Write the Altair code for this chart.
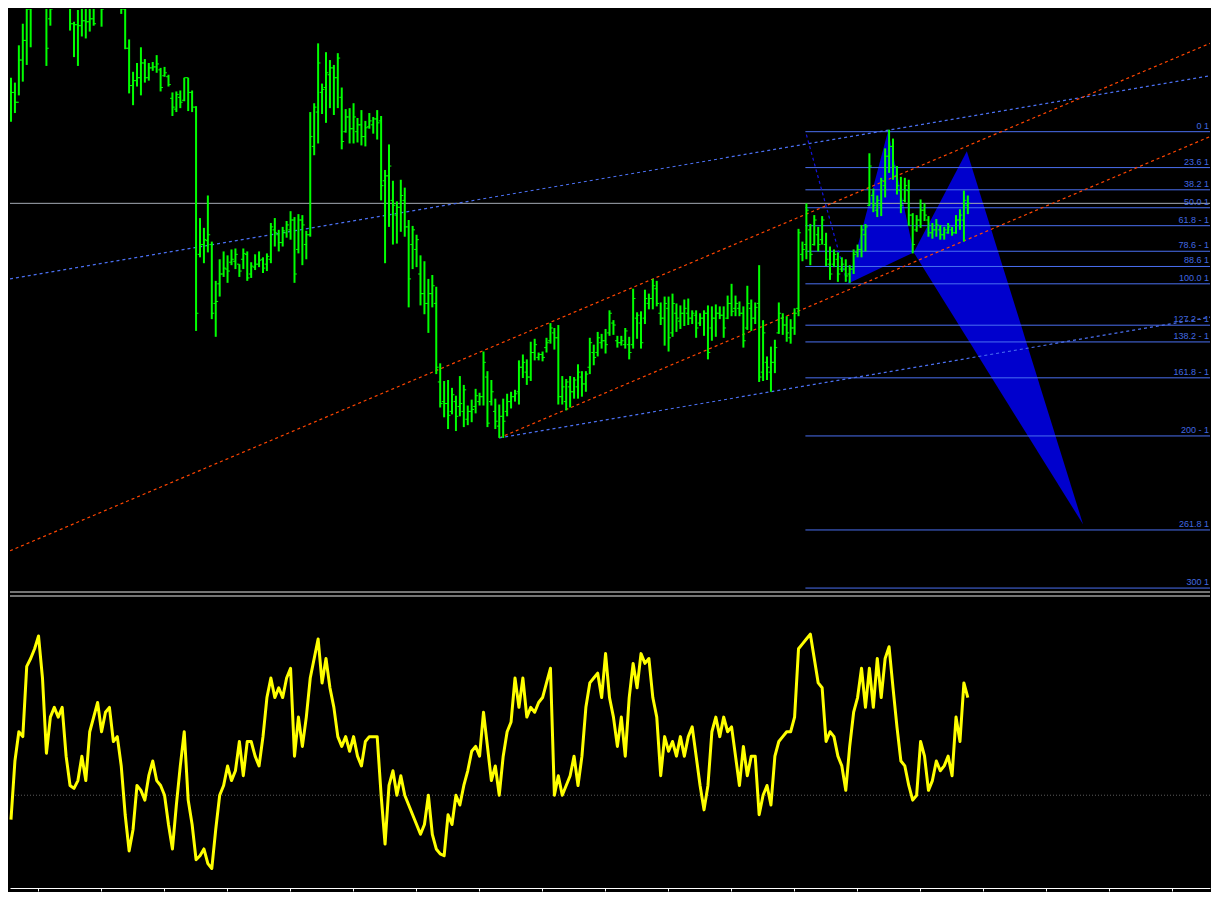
import altair as alt
import pandas as pd

# ---------------- data (price units) ----------------
high = [530,525,563,585,615,625,640,650,645,630,
        625,640,650,645,640,625,587,599,615,620,
        618,620,635,625,640,645,640,630,620,612,
        569,536,545,561,549,545,546,553,540,541,
        533,515,516,517,530,530,517,501,387,377,
        410,363,323,345,353,349,355,356,340,356,
        353,342,350,353,347,351,382,387,375,378,
        384,394,388,391,390,374,495,504,565,524,
        556,548,543,555,520,498,499,504,489,497,
        486,494,490,497,491,436,462,425,404,426,
        418,385,379,370,349,343,325,329,317,239,
        221,222,214,206,226,217,196,202,213,209,
        251,231,222,203,197,203,208,210,212,242,
        248,243,261,264,250,251,265,280,275,278,
        226,223,226,225,238,231,231,265,258,271,
        269,274,293,283,267,267,275,266,315,291,
        292,314,310,325,323,301,307,307,310,300,
        298,304,305,293,293,290,293,298,297,299,
        297,297,308,320,308,302,297,318,304,301,
        339,283,246,256,263,301,290,287,284,295,
        376,363,402,381,390,378,389,372,358,355,
        352,347,345,339,355,360,380,381,453,417,
        410,428,458,477,468,440,429,428,426,392,
        390,406,402,389,382,386,380,378,382,378,
        390,396,415,410]
low = [485,494,512,526,543,561,605,610,605,542,
       583,605,608,606,603,578,551,542,572,570,
       577,583,604,582,605,610,606,603,595,559,
       514,502,521,512,525,527,537,535,516,531,
       521,491,495,499,506,496,495,272,347,341,
       352,284,266,307,327,321,339,335,327,335,
       323,326,334,337,331,333,341,358,353,358,
       367,365,321,351,339,345,368,451,463,493,
       484,499,492,499,457,474,463,463,464,461,
       460,478,473,467,405,341,378,360,361,373,
       368,296,335,337,298,289,270,296,228,194,
       184,172,187,170,185,174,176,179,188,196,
       196,174,196,172,163,163,185,193,200,197,
       224,217,221,242,242,241,250,259,253,197,
       197,191,194,203,203,205,210,228,237,246,
       254,249,267,268,255,257,254,243,254,264,
       254,279,294,294,297,278,257,251,266,271,
       274,277,278,279,265,277,267,243,262,266,
       284,265,284,287,287,287,255,273,272,279,
       220,221,222,210,229,269,268,261,259,268,
       287,343,345,339,359,353,360,338,324,337,
       322,332,322,321,330,347,347,353,399,393,
       388,389,408,433,426,411,392,403,379,351,
       373,377,384,368,366,368,365,365,371,369,
       371,375,363,391]
open_ = [490,515,505,548,568,600,610,630,620,635,
         590,610,625,640,615,620,585,584,583,588,
         587,590,605,625,610,620,630,615,612,600,
         560,522,527,530,545,530,540,541,538,532,
         531,509,498,510,507,530,515,500,350,360,
         364,360,300,320,330,335,342,343,340,345,
         350,330,337,340,345,340,345,375,370,362,
         372,375,385,355,385,360,370,460,495,515,
         520,533,540,530,510,475,490,478,475,482,
         470,480,482,488,486,425,430,405,390,398,
         405,378,360,355,330,310,300,310,300,220,
         200,198,190,200,195,190,182,190,195,200,
         205,225,200,190,175,185,190,200,205,210,
         235,230,225,250,245,248,255,262,270,265,
         205,200,215,210,215,225,218,235,250,250,
         260,262,270,280,262,260,258,258,258,285,
         280,285,300,305,315,290,285,295,270,290,
         282,290,290,285,288,280,285,290,275,285,
         290,288,285,300,295,295,290,275,295,285,
         300,230,240,230,240,270,285,278,265,275,
         295,350,360,375,360,370,365,360,340,340,
         345,335,335,330,335,352,355,370,400,410,
         395,400,420,450,460,430,415,405,415,390,
         375,385,395,385,372,375,375,370,372,375,
         372,385,385,400]
close = [515,505,548,568,600,610,630,620,635,560,
         600,625,640,615,620,585,584,583,588,587,
         590,585,625,600,620,630,615,612,600,560,
         522,527,530,545,530,540,541,544,520,535,
         523,500,513,505,530,515,500,290,360,365,
         370,290,302,330,336,333,345,350,333,351,
         326,338,340,344,336,348,378,372,362,374,
         380,385,330,385,380,370,470,500,545,518,
         535,540,530,550,465,490,478,490,482,470,
         479,486,488,484,420,430,440,400,398,410,
         378,325,375,365,310,300,310,318,235,198,
         198,186,207,185,198,212,190,192,206,205,
         240,178,210,180,185,180,200,205,208,235,
         240,225,250,258,248,245,260,275,265,205,
         215,220,210,222,230,218,228,260,245,265,
         262,258,290,278,260,262,272,250,305,288,
         260,305,305,318,300,285,300,265,300,285,
         290,295,285,290,275,285,290,250,285,290,
         288,275,300,292,300,290,262,300,285,296,
         225,270,235,240,255,290,278,270,275,290,
         372,355,395,350,385,360,385,345,330,350,
         330,340,328,335,350,355,375,378,440,400,
         405,425,450,460,440,420,400,420,390,360,
         385,395,390,372,375,380,370,375,378,372,
         385,390,405,402]
momentum = [75,135,165,160,232,240,250,263,220,143,
            180,190,180,190,140,110,107,115,140,115,
            165,180,195,165,185,190,155,160,130,80,
            43,65,110,105,95,120,135,115,110,100,
            70,45,90,130,165,95,70,34,38,45,
            30,25,65,100,110,130,115,125,155,120,
            155,155,140,130,160,200,220,200,210,200,
            220,230,140,180,150,180,220,240,260,215,
            240,210,190,160,150,160,145,160,140,130,
            155,160,160,160,100,50,110,125,100,120,
            100,90,80,70,60,70,100,60,45,40,
            38,80,70,100,90,110,125,145,150,140,
            185,150,115,130,100,140,165,175,220,190,
            220,180,190,185,195,200,215,230,100,120,
            100,110,120,140,110,140,190,215,220,225,
            200,245,200,180,150,180,140,200,235,210,
            245,235,240,200,180,120,160,145,155,140,
            160,140,160,170,140,110,85,110,165,180,
            160,180,165,170,140,110,150,120,140,140,
            80,100,110,90,140,155,160,165,165,180,
            250,255,260,265,240,215,210,155,165,160,
            140,130,105,150,185,200,230,190,230,190,
            240,200,240,252,210,170,135,130,110,95,
            100,155,140,105,115,135,125,130,140,120,
            180,155,215,200]
momentum_level = 100

fib_pct = [0, 23.6, 38.2, 50.0, 61.8, 78.6, 88.6, 100.0, 127.2, 138.2, 161.8, 200, 261.8, 300]
fib_labels = ["0 1", "23.6 1", "38.2 1", "50.0 1", "61.8 - 1", "78.6 - 1", "88.6 1",
              "100.0 1", "127.2 - 1", "138.2 - 1", "161.8 -  1", "200 - 1", "261.8 1", "300 1"]
fib_high = 475      # price at 0 %
fib_low = 320       # price at 100 %
fib_start = 201.75  # bar index where the fibo object begins
current_price = 402

# XABCD harmonic pattern (bar index, price)
pat_name = ["X", "A", "B", "C", "D"]
pat_i = [212.5, 222.75, 229.25, 242.75, 272.25]
pat_p = [320, 476, 352, 455, 75]

# trend lines: name, start (bar, price), end (bar, price)
tl_name = ["blue_long", "red_long", "red_channel", "blue_channel", "xa"]
tl_i0 = [-0.25, -0.25, 124, 124, 202]
tl_p0 = [325, 48, 163, 163, 472]
tl_i1 = [304.5, 304.5, 304.5, 304.5, 212.25]
tl_p1 = [532, 565, 470, 286, 323]
tl_color = ["#4a6ff0", "#ff4500", "#ff4500", "#4a6ff0", "#1414e0"]

axis_ticks = [6.75, 22.75, 38.75, 54.75, 70.75, 86.75, 102.75, 118.75, 134.75, 150.75,
              166.75, 182.75, 198.75, 214.75, 230.75, 246.75, 262.75, 278.75, 294.75]

# ---------------- layout ----------------
W = 1200
H_TOP = 583
H_BOT = 292
X_DOM = [-0.25, 304.5]
P_DOM = [6, 600]
M_DOM = [5, 304]

xs = alt.Scale(domain=X_DOM, nice=False, zero=False)
ps = alt.Scale(domain=P_DOM, nice=False, zero=False)
ms = alt.Scale(domain=M_DOM, nice=False, zero=False)

bars = pd.DataFrame({"i": list(range(len(high))), "high": high, "low": low,
                     "open": open_, "close": close})

GREEN = "#00ff00"
hl = alt.Chart(bars).mark_rule(color=GREEN, strokeWidth=2, clip=True).encode(
    x=alt.X("i:Q", scale=xs, axis=None),
    y=alt.Y("high:Q", scale=ps, axis=None), y2="low:Q")
op = alt.Chart(bars).transform_calculate(a="datum.i - 0.6", b="datum.i").mark_rule(
    color=GREEN, strokeWidth=1, clip=True).encode(
    x=alt.X("a:Q", scale=xs, axis=None), x2="b:Q",
    y=alt.Y("open:Q", scale=ps, axis=None))
cl = alt.Chart(bars).transform_calculate(a="datum.i", b="datum.i + 0.6").mark_rule(
    color=GREEN, strokeWidth=1, clip=True).encode(
    x=alt.X("a:Q", scale=xs, axis=None), x2="b:Q",
    y=alt.Y("close:Q", scale=ps, axis=None))

# fibonacci
fib = pd.DataFrame({"pct": fib_pct, "label": fib_labels})
fib_base = alt.Chart(fib).transform_calculate(
    p=f"{fib_high} - ({fib_high} - {fib_low}) * datum.pct / 100",
    x0=f"{fib_start}", x1=f"{X_DOM[1]}")
fib_lines = fib_base.mark_rule(color="#4a6ff0", strokeWidth=1).encode(
    x=alt.X("x0:Q", scale=xs, axis=None), x2="x1:Q",
    y=alt.Y("p:Q", scale=ps, axis=None))
fib_txt = fib_base.mark_text(align="right", baseline="bottom", dy=-1, fontSize=9,
                             font="Liberation Sans", color="#4169e1").encode(
    x=alt.value(W - 1), y=alt.Y("p:Q", scale=ps, axis=None), text="label:N")

# current price line
cur = alt.Chart(pd.DataFrame({"p": [current_price]})).mark_rule(
    color="#a4aab4", strokeWidth=1).encode(y=alt.Y("p:Q", scale=ps, axis=None))

# trend lines
tl_rows = []
for n, a0, b0, a1, b1 in zip(tl_name, tl_i0, tl_p0, tl_i1, tl_p1):
    tl_rows.append({"name": n, "i": a0, "p": b0})
    tl_rows.append({"name": n, "i": a1, "p": b1})
tl = alt.Chart(pd.DataFrame(tl_rows)).mark_line(strokeWidth=1.2, strokeDash=[3, 3], clip=True).encode(
    x=alt.X("i:Q", scale=xs, axis=None),
    y=alt.Y("p:Q", scale=ps, axis=None),
    color=alt.Color("name:N", scale=alt.Scale(domain=tl_name, range=tl_color), legend=None),
    detail="name:N")

# harmonic triangles XAB and BCD as filled areas
def tri(name, a, b, c):
    ia, ib, ic = pat_i[a], pat_i[b], pat_i[c]
    pa, pb, pc = pat_p[a], pat_p[b], pat_p[c]
    base_at_b = pa + (pc - pa) * (ib - ia) / (ic - ia)
    return [{"t": name, "i": ia, "top": pa, "bot": pa},
            {"t": name, "i": ib, "top": pb, "bot": base_at_b},
            {"t": name, "i": ic, "top": pc, "bot": pc}]

tri_df = pd.DataFrame(tri("XAB", 0, 1, 2) + tri("BCD", 2, 3, 4))
tris = alt.Chart(tri_df).mark_area(color="#0000cd", opacity=1, orient="vertical", clip=True).encode(
    x=alt.X("i:Q", scale=xs, axis=None),
    y=alt.Y("top:Q", scale=ps, axis=None, stack=None), y2="bot:Q",
    detail="t:N")

sep_top = alt.Chart(pd.DataFrame({"p": [P_DOM[0]]})).mark_rule(
    color="#e8e8e8", strokeWidth=1).encode(y=alt.Y("p:Q", scale=ps, axis=None))

top = alt.layer(tris, cur, fib_lines, tl, hl, op, cl, fib_txt, sep_top).properties(
    width=W, height=H_TOP)

# ---------------- lower panel ----------------
mom = pd.DataFrame({"i": list(range(len(momentum))), "m": momentum})
mline = alt.Chart(mom).mark_line(color="#ffff00", strokeWidth=3, strokeJoin="round").encode(
    x=alt.X("i:Q", scale=xs,
            axis=alt.Axis(values=axis_ticks, labels=False, title=None, grid=False,
                          domainColor="#ffffff", tickColor="#ffffff", tickSize=3,
                          domainWidth=1, tickWidth=1)),
    y=alt.Y("m:Q", scale=ms, axis=None))
level = alt.Chart(pd.DataFrame({"m": [momentum_level]})).mark_rule(
    color="#5a5a5a", strokeWidth=1, strokeDash=[1, 2]).encode(
    y=alt.Y("m:Q", scale=ms, axis=None))
sep_bot = alt.Chart(pd.DataFrame({"m": [M_DOM[1]]})).mark_rule(
    color="#e8e8e8", strokeWidth=1).encode(y=alt.Y("m:Q", scale=ms, axis=None))

bottom = alt.layer(level, mline, sep_bot).properties(width=W, height=H_BOT)

chart = alt.vconcat(top, bottom, spacing=2).properties(
    background="#000000", padding=0).configure_view(stroke="transparent")

chart.save("out.html", embed_options={"renderer": "svg", "actions": False})
